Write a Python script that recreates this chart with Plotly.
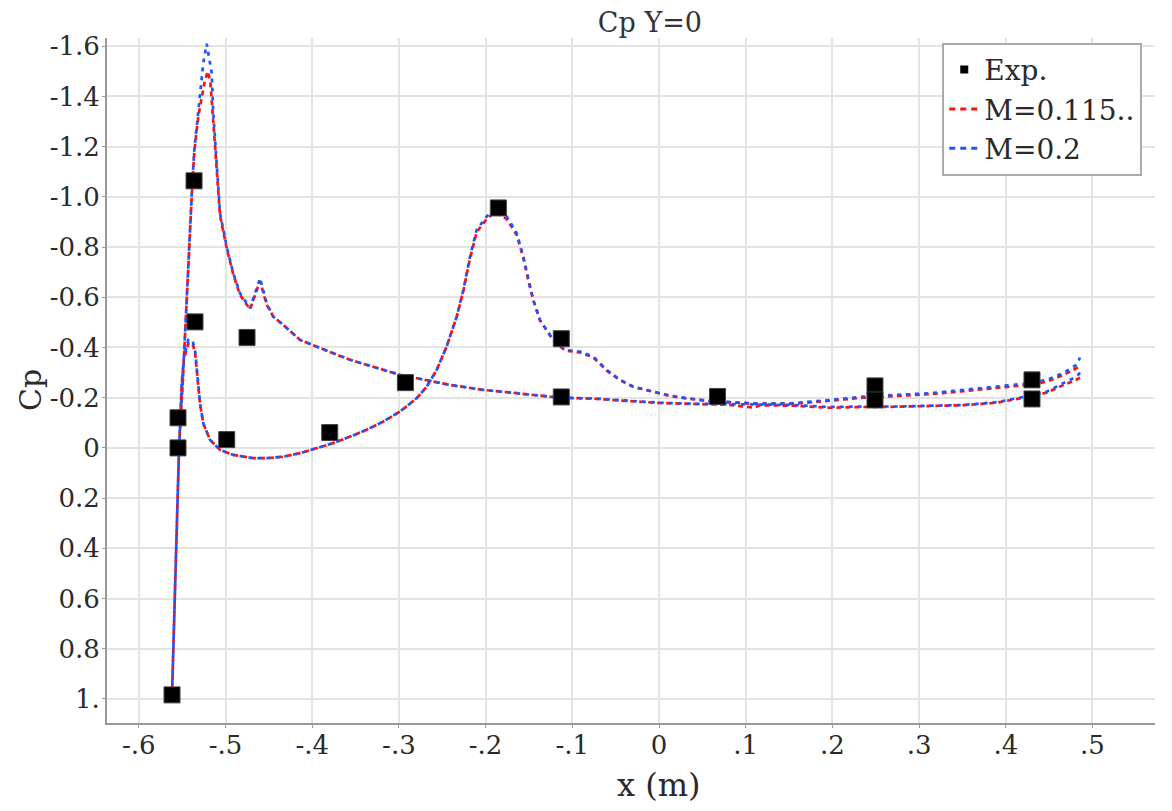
import plotly.graph_objects as go

# ---------------- data ----------------
exp_x = [-0.5617, -0.5548, -0.5548, -0.5363, -0.5352, -0.4986, -0.4752, -0.3798,
         -0.2925, -0.1853, -0.1127, -0.1127, 0.0675, 0.2491, 0.2491, 0.4302, 0.4302]
exp_cp = [0.984, 0.0, -0.120, -1.064, -0.502, -0.033, -0.440, -0.061,
          -0.260, -0.956, -0.435, -0.203, -0.205, -0.247, -0.191, -0.271, -0.195]

# M=0.2 : trailing edge -> suction peak -> stagnation -> second branch -> trailing edge
m02_x = [0.4856, 0.4818, 0.4663, 0.4472, 0.4279, 0.3895, 0.3510, 0.3126, 0.2742, 0.2356,
         0.1972, 0.1546, 0.1165, 0.0781, 0.0396, 0.0012, -0.0373, -0.0758, -0.1027, -0.1257,
         -0.1641, -0.2027, -0.2411, -0.2603, -0.2795, -0.2987, -0.3180, -0.3371, -0.3564, -0.3757,
         -0.3948, -0.4141, -0.4333, -0.4449, -0.4525, -0.4602, -0.4717, -0.4833, -0.4910, -0.4986,
         -0.5063, -0.5102, -0.5141, -0.5159, -0.5190, -0.5217, -0.5256, -0.5314, -0.5360, -0.5383,
         -0.5401, -0.5421, -0.5441, -0.5456, -0.5479, -0.5494, -0.5517, -0.5536, -0.5617,
         -0.5536, -0.5505, -0.5479, -0.5429, -0.5383, -0.5352, -0.5332, -0.5314, -0.5294, -0.5256,
         -0.5179, -0.5063, -0.4910, -0.4679, -0.4525, -0.4333, -0.4141, -0.3948, -0.3757, -0.3564,
         -0.3371, -0.3180, -0.2987, -0.2795, -0.2679, -0.2564, -0.2449, -0.2333, -0.2257, -0.2180,
         -0.2103, -0.1987, -0.1892, -0.1757, -0.1641, -0.1565, -0.1507, -0.1450, -0.1373, -0.1219,
         -0.1084, -0.0911, -0.0758, -0.0603, -0.0450, -0.0296, -0.0181, -0.0027, 0.0127, 0.0319,
         0.0588, 0.1165, 0.1549, 0.1972, 0.2356, 0.2742, 0.3126, 0.3510, 0.3895, 0.4279,
         0.4472, 0.4663, 0.4818, 0.4856]
m02_cp = [-0.300, -0.284, -0.258, -0.224, -0.208, -0.182, -0.171, -0.167, -0.165, -0.165,
          -0.163, -0.171, -0.172, -0.174, -0.176, -0.180, -0.188, -0.197, -0.199, -0.204,
          -0.218, -0.231, -0.251, -0.264, -0.278, -0.291, -0.311, -0.331, -0.351, -0.377,
          -0.404, -0.430, -0.490, -0.523, -0.576, -0.676, -0.557, -0.616, -0.696, -0.802,
          -0.935, -1.134, -1.333, -1.493, -1.560, -1.610, -1.534, -1.335, -1.187, -1.056,
          -0.920, -0.789, -0.657, -0.522, -0.390, -0.259, -0.124, 0.008, 0.984,
          0.000, -0.259, -0.364, -0.430, -0.430, -0.390, -0.324, -0.258, -0.178, -0.098,
          -0.032, 0.008, 0.028, 0.041, 0.041, 0.035, 0.021, 0.001, -0.019, -0.045,
          -0.072, -0.105, -0.145, -0.198, -0.244, -0.311, -0.404, -0.523, -0.629, -0.762,
          -0.869, -0.922, -0.955, -0.922, -0.855, -0.762, -0.669, -0.590, -0.510, -0.430,
          -0.390, -0.384, -0.364, -0.311, -0.271, -0.244, -0.234, -0.222, -0.208, -0.198,
          -0.187, -0.176, -0.178, -0.191, -0.204, -0.211, -0.218, -0.231, -0.244, -0.258,
          -0.271, -0.298, -0.331, -0.360]

# M=0.115.. : same body, slightly lower suction peak
m0115_x = [0.4856, 0.4818, 0.4663, 0.4472, 0.4279, 0.3895, 0.3510, 0.3126, 0.2742, 0.2356,
           0.1972, 0.1546, 0.1165, 0.1100, 0.0781, 0.0396, 0.0012, -0.0373, -0.0758, -0.1027, -0.1257,
           -0.1641, -0.2027, -0.2411, -0.2603, -0.2795, -0.2987, -0.3180, -0.3371, -0.3564, -0.3757,
           -0.3948, -0.4141, -0.4333, -0.4449, -0.4525, -0.4602, -0.4717, -0.4833, -0.4910, -0.4986,
           -0.5063, -0.5102, -0.5141, -0.5175, -0.5205, -0.5240, -0.5314, -0.5360, -0.5383,
           -0.5401, -0.5421, -0.5441, -0.5456, -0.5479, -0.5494, -0.5517, -0.5536, -0.5617,
           -0.5536, -0.5505, -0.5479, -0.5429, -0.5383, -0.5352, -0.5332, -0.5314, -0.5294, -0.5256,
           -0.5179, -0.5063, -0.4910, -0.4679, -0.4525, -0.4333, -0.4141, -0.3948, -0.3757, -0.3564,
           -0.3371, -0.3180, -0.2987, -0.2795, -0.2679, -0.2564, -0.2449, -0.2333, -0.2257, -0.2180,
           -0.2103, -0.1987, -0.1892, -0.1757, -0.1641, -0.1565, -0.1507, -0.1450, -0.1373, -0.1219,
           -0.1084, -0.0911, -0.0758, -0.0603, -0.0450, -0.0296, -0.0181, -0.0027, 0.0127, 0.0319,
           0.0588, 0.1165, 0.1549, 0.1972, 0.2356, 0.2742, 0.3126, 0.3510, 0.3895, 0.4279,
           0.4472, 0.4663, 0.4818, 0.4856]
m0115_cp = [-0.280, -0.272, -0.250, -0.220, -0.205, -0.180, -0.170, -0.166, -0.164, -0.163,
            -0.160, -0.168, -0.170, -0.160, -0.172, -0.175, -0.179, -0.187, -0.196, -0.199, -0.204,
            -0.218, -0.231, -0.251, -0.264, -0.278, -0.291, -0.311, -0.331, -0.351, -0.377,
            -0.404, -0.430, -0.490, -0.523, -0.570, -0.665, -0.552, -0.610, -0.690, -0.795,
            -0.925, -1.120, -1.320, -1.460, -1.500, -1.460, -1.320, -1.180, -1.050,
            -0.915, -0.785, -0.655, -0.520, -0.388, -0.258, -0.123, 0.008, 0.984,
            0.000, -0.255, -0.355, -0.415, -0.418, -0.382, -0.320, -0.255, -0.176, -0.097,
            -0.032, 0.008, 0.028, 0.041, 0.041, 0.035, 0.021, 0.001, -0.019, -0.045,
            -0.072, -0.105, -0.145, -0.198, -0.244, -0.311, -0.404, -0.523, -0.625, -0.755,
            -0.860, -0.912, -0.940, -0.912, -0.848, -0.758, -0.665, -0.588, -0.508, -0.428,
            -0.388, -0.380, -0.360, -0.308, -0.270, -0.243, -0.233, -0.221, -0.207, -0.197,
            -0.186, -0.175, -0.176, -0.188, -0.200, -0.207, -0.214, -0.226, -0.238, -0.252,
            -0.264, -0.290, -0.318, -0.325]

y_tickvals = [-1.6, -1.4, -1.2, -1.0, -0.8, -0.6, -0.4, -0.2, 0, 0.2, 0.4, 0.6, 0.8, 1.0]
y_ticktext = ["-1.6", "-1.4", "-1.2", "-1.0", "-0.8", "-0.6", "-0.4", "-0.2", "0",
              "0.2", "0.4", "0.6", "0.8", "1."]
x_tickvals = [-0.6, -0.5, -0.4, -0.3, -0.2, -0.1, 0, 0.1, 0.2, 0.3, 0.4, 0.5]
x_ticktext = ["-.6", "-.5", "-.4", "-.3", "-.2", "-.1", "0", ".1", ".2", ".3", ".4", ".5"]

# ---------------- figure ----------------
FONT = "DejaVu Serif"
RED = "#ff1010"
BLUE = "#1f55ff"
TXT = "#2a2a2a"

fig = go.Figure()

fig.add_trace(go.Scatter(x=m0115_x, y=m0115_cp, mode="lines", name="M=0.115..",
                         line=dict(color=RED, width=2.7, dash="5px,4px"), showlegend=False))
fig.add_trace(go.Scatter(x=m02_x, y=m02_cp, mode="lines", name="M=0.2",
                         line=dict(color=BLUE, width=2.7, dash="4px,5px"), showlegend=False))
fig.add_trace(go.Scatter(x=exp_x, y=exp_cp, mode="markers", name="Exp.",
                         marker=dict(symbol="square", size=16, color="black",
                                     line=dict(color="#444", width=1)),
                         showlegend=False))

# legend entries
fig.add_trace(go.Scatter(x=[None], y=[None], mode="markers", name="Exp.",
                         marker=dict(symbol="square", size=8, color="black")))
fig.add_trace(go.Scatter(x=[None], y=[None], mode="lines", name="M=0.115..",
                         line=dict(color=RED, width=3, dash="6px,5px")))
fig.add_trace(go.Scatter(x=[None], y=[None], mode="lines", name="M=0.2",
                         line=dict(color=BLUE, width=3, dash="6px,5px")))

axis_common = dict(showgrid=True, gridcolor="#e3e3e3", gridwidth=2,
                   showline=True, linecolor="#999999", linewidth=2,
                   ticks="outside", ticklen=3, tickcolor="#999999", tickwidth=1,
                   zeroline=False, automargin=False,
                   tickfont=dict(family=FONT, size=26, color=TXT))

# the page body adds an 8px offset, so the figure is 8px smaller than the window
fig.update_layout(
    width=1164, height=803,
    margin=dict(l=99, r=17, t=30, b=88),
    paper_bgcolor="white", plot_bgcolor="white",
    font=dict(family=FONT, color=TXT),
    title=dict(text="Cp Y=0", x=0.5515, xanchor="center", y=0.982, yanchor="middle",
               font=dict(family=FONT, size=27, color="#333")),
    xaxis=dict(range=[-0.6367, 0.5721], tickvals=x_tickvals, ticktext=x_ticktext,
               ticklabelstandoff=-5, **axis_common),
    yaxis=dict(range=[1.096, -1.633], tickvals=y_tickvals, ticktext=y_ticktext,
               ticklabelstandoff=-3, **axis_common),
    legend=dict(x=0.797, y=0.993, xanchor="left", yanchor="top",
                bgcolor="white", bordercolor="#aaaaaa", borderwidth=2,
                font=dict(family=FONT, size=28, color=TXT),
                tracegroupgap=0, itemwidth=30),
    annotations=[
        dict(text="x (m)", xref="paper", yref="paper", x=0.5267, y=-0.0905,
             xanchor="center", yanchor="middle", showarrow=False,
             font=dict(family=FONT, size=32, color=TXT)),
        dict(text="Cp", xref="paper", yref="paper", x=-0.0735, y=0.486,
             xanchor="center", yanchor="middle", showarrow=False, textangle=-90,
             font=dict(family=FONT, size=30, color=TXT)),
    ],
)

fig.write_html("out.html")
